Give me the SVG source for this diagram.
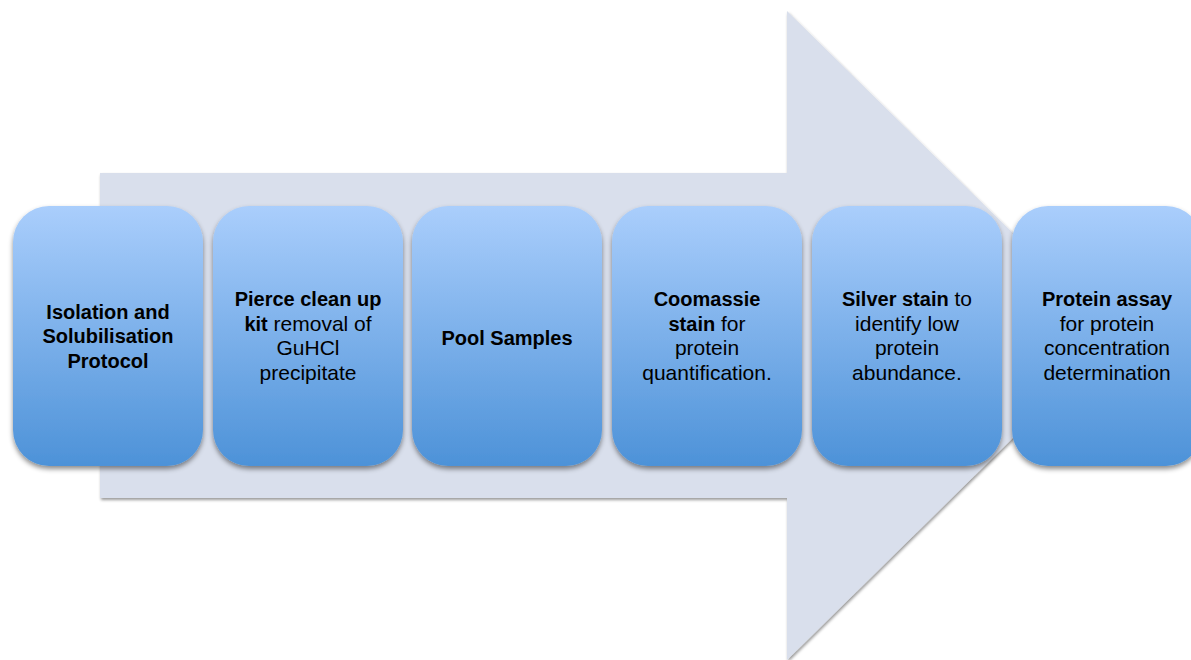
<svg xmlns="http://www.w3.org/2000/svg" width="1191" height="660" viewBox="0 0 1191 660">
  <style>
    .step { fill: url(#stepFill); filter: url(#boxShadow); }
    .label { font-family: "Liberation Sans", Arial, sans-serif; font-size: 21px; fill: #000; text-anchor: middle; }
    .b { font-weight: bold; font-size: 20px; }
  </style>
  <defs>
    <linearGradient id="stepFill" x1="0" y1="0" x2="0" y2="1">
      <stop offset="0" stop-color="#AACEFC"/>
      <stop offset="1" stop-color="#4D92D8"/>
    </linearGradient>
    <filter id="boxShadow" x="-10%" y="-10%" width="120%" height="125%">
      <feDropShadow dx="0" dy="3" stdDeviation="2.5" flood-color="#000" flood-opacity="0.45"/>
    </filter>
    <filter id="arrowShadow" x="-5%" y="-5%" width="110%" height="110%">
      <feDropShadow dx="1" dy="2" stdDeviation="1.5" flood-color="#000" flood-opacity="0.4"/>
    </filter>
  </defs>

  <!-- background process arrow -->
  <g id="connectors">
    <path d="M100,173 L787,173 L787,11 L1117,335.5 L787,660 L787,498 L100,498 Z" fill="#D9DFEC" filter="url(#arrowShadow)"/>
  </g>

  <g id="step1">
    <rect class="step" x="13" y="206" width="190" height="260" rx="36"/>
    <text class="label b" x="108" y="319">Isolation and</text>
    <text class="label b" x="108" y="343">Solubilisation</text>
    <text class="label b" x="108" y="368">Protocol</text>
  </g>

  <g id="step2">
    <rect class="step" x="213" y="206" width="190" height="260" rx="36"/>
    <text class="label b" x="308" y="306">Pierce clean up</text>
    <text class="label" x="308" y="331"><tspan class="b">kit</tspan> removal of</text>
    <text class="label" x="308" y="355">GuHCl</text>
    <text class="label" x="308" y="380">precipitate</text>
  </g>

  <g id="step3">
    <rect class="step" x="412" y="206" width="190" height="260" rx="36"/>
    <text class="label b" x="507" y="345">Pool Samples</text>
  </g>

  <g id="step4">
    <rect class="step" x="612" y="206" width="190" height="260" rx="36"/>
    <text class="label b" x="707" y="306">Coomassie</text>
    <text class="label" x="707" y="331"><tspan class="b">stain</tspan> for</text>
    <text class="label" x="707" y="355">protein</text>
    <text class="label" x="707" y="380">quantification.</text>
  </g>

  <g id="step5">
    <rect class="step" x="812" y="206" width="190" height="260" rx="36"/>
    <text class="label" x="907" y="306"><tspan class="b">Silver stain</tspan> to</text>
    <text class="label" x="907" y="331">identify low</text>
    <text class="label" x="907" y="355">protein</text>
    <text class="label" x="907" y="380">abundance.</text>
  </g>

  <g id="step6">
    <rect class="step" x="1012" y="206" width="190" height="260" rx="36"/>
    <text class="label b" x="1107" y="306">Protein assay</text>
    <text class="label" x="1107" y="331">for protein</text>
    <text class="label" x="1107" y="355">concentration</text>
    <text class="label" x="1107" y="380">determination</text>
  </g>
</svg>
